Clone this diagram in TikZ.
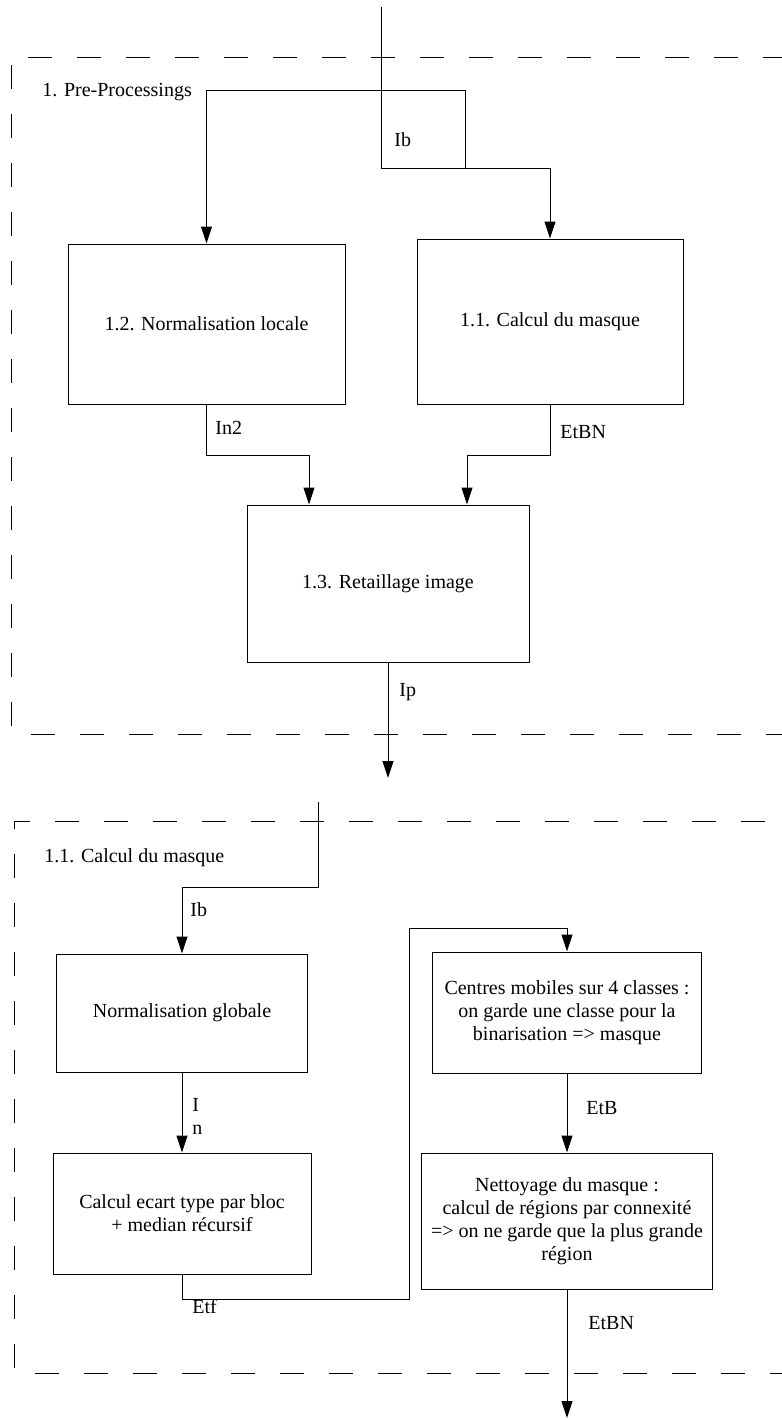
\documentclass[tikz,border=0pt]{standalone}
\usepackage{fontspec}
\setmainfont{Liberation Serif}
\usetikzlibrary{arrows.meta, positioning, calc}
\tikzset{>={Triangle[length=8.5pt,width=5.5pt]}}
\tikzset{
    block/.style={draw, line width=0.5pt, inner sep=0pt, align=center, font=\fontsize{10}{11.5}\selectfont},
    lbl/.style={anchor=west, inner sep=0pt, align=left, font=\fontsize{10}{11.5}\selectfont},
    frame/.style={line width=0.5pt, dash pattern=on 12pt off 12.5pt},
    wire/.style={line width=0.5pt}
}

\begin{document}
\begin{tikzpicture}[x=0.5pt,y=-0.5pt]
    \useasboundingbox (0,0) rectangle (782,1420);
    % 1. pre-processings
    \draw[frame] (28,57) -- (782,57);
    \draw[frame] (11,65) -- (11,730);
    \draw[frame] (31,734) -- (782,734);
    \node[lbl] (tpre) at (42,92) {1. Pre-Processings};
    \node[block, minimum width=138.5pt, minimum height=80pt] (norml) at (206.5,324) {1.2. Normalisation locale};
    \node[block, minimum width=133pt, minimum height=82.5pt] (masque) at (550,321.5) {1.1. Calcul du masque};
    \node[block, minimum width=141pt, minimum height=78.5pt] (retail) at (388,583.5) {1.3. Retaillage image};
    \coordinate (in1) at (381,7);
    \coordinate (fork) at (465,168);
    \coordinate (out1) at (388,778);
    \draw[wire] (in1) -- (in1 |- fork) -- (fork);
    \draw[wire,->] (fork) -| (masque.north);
    \draw[wire,->] (fork) -- ++(0,-78) -| (norml.north);
    \draw[wire,->] (norml.south) -- ++(0,51) -| ([xshift=-39.5pt]retail.north);
    \draw[wire,->] (masque.south) -- ++(0,51) -| ([xshift=39.5pt]retail.north);
    \draw[wire,->] (retail.south) -- (out1);
    \node[lbl] (lib1) at (394,140) {Ib};
    \node[lbl] (lin2) at (215,428) {In2};
    \node[lbl] (letbn1) at (560,432) {EtBN};
    \node[lbl] (lip) at (399,692) {Ip};

    % 1.1. calcul du masque
    \draw[frame] (14,1368) -- (14,821) -- (782,821);
    \draw[frame] (35,1373) -- (782,1373);
    \node[lbl] (tmasque) at (44,858) {1.1. Calcul du masque};
    \node[block, minimum width=125.5pt, minimum height=59pt] (normg) at (182,1013) {Normalisation globale};
    \node[block, minimum width=129pt, minimum height=60.5pt] (ecart) at (182,1213.5) {Calcul ecart type par bloc\\+ median récursif};
    \node[block, minimum width=134.5pt, minimum height=60.5pt] (centres) at (567,1012.5) {Centres mobiles sur 4 classes :\\on garde une classe pour la\\binarisation => masque};
    \node[block, minimum width=145.5pt, minimum height=68pt] (nettoy) at (567,1221) {Nettoyage du masque :\\calcul de régions par connexité\\=> on ne garde que la plus grande\\région};
    \coordinate (in2) at (318,802);
    \coordinate (etfup) at (409,928);
    \coordinate (out2) at (567,1418);
    \draw[wire,->] (in2) -- (318,887) -| (normg.north);
    \draw[wire,->] (normg.south) -- (ecart.north);
    \draw[wire,->] (ecart.south) |- (etfup |- 0,1299) -- (etfup) -| (centres.north);
    \draw[wire,->] (centres.south) -- (nettoy.north);
    \draw[wire,->] (nettoy.south) -- (out2);
    \node[lbl] (lib2) at (190,910) {Ib};
    \node[lbl] (lin) at (192,1116) {I\\n};
    \node[lbl] (letf) at (192,1307) {Etf};
    \node[lbl] (letb) at (586,1108) {EtB};
    \node[lbl] (letbn2) at (588,1323) {EtBN};
\end{tikzpicture}
\end{document}
